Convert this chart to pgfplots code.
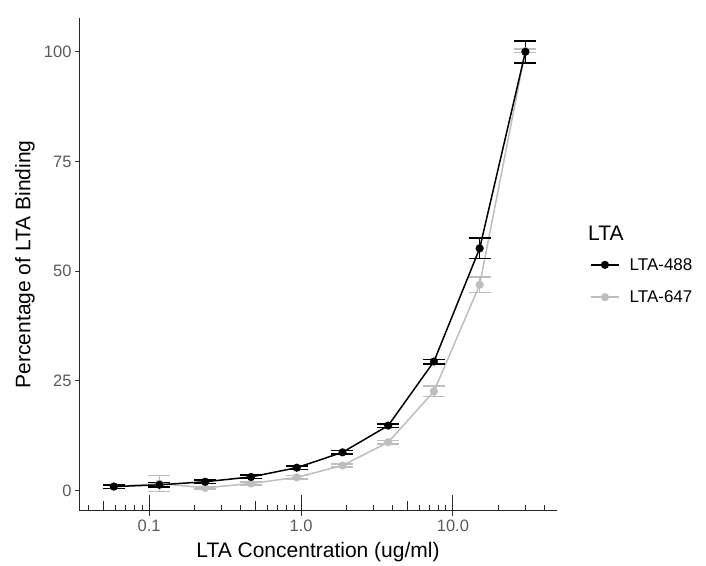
\documentclass[border=0pt]{standalone}
\usepackage{fontspec}
\setmainfont{Liberation Sans}
\usepackage{pgfplots}
\pgfplotsset{compat=1.18}
\definecolor{ggray}{HTML}{BEBEBE}
\definecolor{ticklab}{HTML}{5A5A5A}
\begin{document}
\begin{tikzpicture}[x=1bp,y=1bp]
\begin{axis}[
  at={(0,0)}, anchor=south west,
  scale only axis, width=476.7bp, height=492.7bp,
  xmode=log, xmin=0.0351, xmax=48.2,
  ymin=-4.6, ymax=107.7,
  axis x line*=bottom, axis y line*=left,
  axis line style={black!85, line width=1bp},
  xtick={0.1,1,10}, xticklabels={0.1,1.0,10.0},
  ytick={0,25,50,75,100},
  xminorticks=false, yminorticks=false,
  tick align=outside,
  major tick length=5bp,
  tick style={black!80, line width=1bp},
  /pgf/number format/assume math mode=true,
  ticklabel style={font=\fontsize{16.5bp}{19bp}\selectfont, text=ticklab},
  xticklabel style={yshift=-1bp},
  clip=false,
  legend style={at={(1.0699,0.515)}, anchor=north west, draw=none, fill=none,
    font=\fontsize{17bp}{20bp}\selectfont, row sep=17bp, column sep=9bp, inner sep=0pt,
    nodes={inner sep=1bp}},
  legend cell align=left,
  legend image code/.code={\draw[mark repeat=2,mark phase=2,#1] plot coordinates {(0bp,0bp) (14bp,0bp) (28bp,0bp)};},
]
% log annotation ticks
\pgfplotsinvokeforeach{0.04,0.06,0.07,0.08,0.09,0.2,0.3,0.4,0.6,0.7,0.8,0.9,2,3,4,6,7,8,9,20,30,40}{
  \draw[black!85, line width=1bp] (axis cs:#1,-4.6) -- ++(0pt,5.7bp);
}
\pgfplotsinvokeforeach{0.05,0.5,5}{
  \draw[black!85, line width=1bp] (axis cs:#1,-4.6) -- ++(0pt,10bp);
}
\pgfplotsinvokeforeach{0.1,1,10}{
  \draw[black!85, line width=1bp] (axis cs:#1,-4.6) -- ++(0pt,15.7bp);
}
% LTA-647 (gray)
\addplot[forget plot, ggray, line width=1.5bp, mark=*, mark size=3.3bp,
  error bars/.cd, y dir=both, y explicit,
  error bar style={line width=1.6bp, ggray},
  error mark options={rotate=90, mark size=11bp, line width=1.6bp, ggray}]
  table[x=x, y=y, y error=e] {
x y e
0.0586 0.9 0.4
0.117 1.6 1.8
0.234 0.6 0.3
0.469 1.6 0.4
0.9375 3.0 0.4
1.875 5.7 0.4
3.75 11.0 0.4
7.5 22.6 1.2
15 46.9 1.8
30 100.2 0.4
};
% LTA-488 (black)
\addplot[forget plot, black, line width=1.5bp, mark=*, mark size=3.3bp,
  error bars/.cd, y dir=both, y explicit,
  error bar style={line width=1.6bp, black},
  error mark options={rotate=90, mark size=11bp, line width=1.6bp, black}]
  table[x=x, y=y, y error=e] {
x y e
0.0586 0.9 0.4
0.117 1.3 0.5
0.234 2.0 0.4
0.469 3.1 0.4
0.9375 5.2 0.4
1.875 8.7 0.4
3.75 14.8 0.4
7.5 29.4 0.5
15 55.2 2.3
30 100.0 2.5
};
\addlegendimage{black, line width=1.5bp, mark=*, mark size=3.3bp}
\addlegendentry{LTA-488}
\addlegendimage{ggray, line width=1.5bp, mark=*, mark size=3.3bp}
\addlegendentry{LTA-647}
\end{axis}
\node[anchor=west, font=\fontsize{21bp}{24bp}\selectfont, inner sep=0pt] at (508,277.7) {LTA};
\node[font=\fontsize{21bp}{24bp}\selectfont, inner sep=0pt] at (238,-41) {LTA Concentration (ug/ml)};
\node[rotate=90, font=\fontsize{21bp}{24bp}\selectfont, inner sep=0pt] at (-55,246.4) {Percentage of LTA Binding};
\pgfresetboundingbox
\path[use as bounding box] (-80,-55.3) rectangle (626,510.7);
\end{tikzpicture}
\end{document}
